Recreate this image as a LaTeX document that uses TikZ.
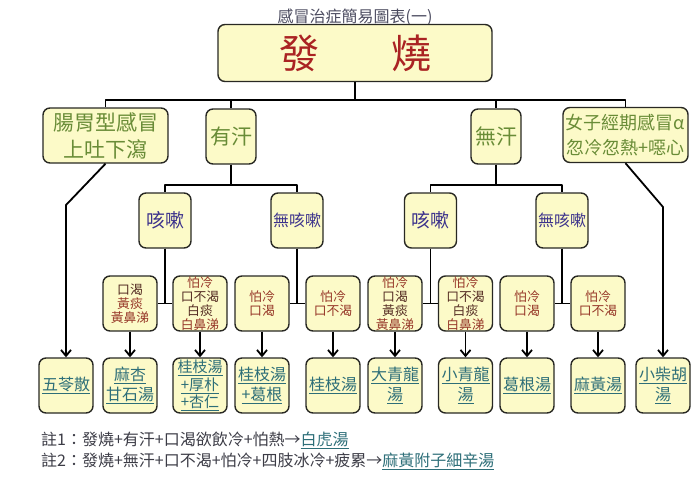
\documentclass[tikz,border=0pt]{standalone}
\usepackage{fontspec}
\setmainfont{Noto Sans CJK TC}
\usetikzlibrary{arrows.meta}
\definecolor{boxfill}{RGB}{252,250,200}
\definecolor{boxline}{RGB}{40,40,35}
\definecolor{titlegray}{RGB}{75,75,95}
\definecolor{feverred}{RGB}{170,35,35}
\definecolor{typegreen}{RGB}{105,140,55}
\definecolor{coughblue}{RGB}{60,50,140}
\definecolor{symbrown}{RGB}{150,55,40}
\definecolor{symdark}{RGB}{85,45,35}
\definecolor{herbteal}{RGB}{45,110,120}
\definecolor{notegray}{RGB}{60,60,70}

\begin{document}
\begin{tikzpicture}[x=1pt,y=-1pt,
  box/.style={draw=boxline,line width=1.4pt,rounded corners=7pt,fill=boxfill,inner sep=0pt,align=center},
  typebox/.style={box,text=typegreen,minimum height=55pt,font=\fontsize{21}{27}\selectfont},
  coughbox/.style={box,text=coughblue,minimum width=52pt,minimum height=55pt},
  symbox/.style={box,text=symbrown,minimum width=54pt,minimum height=55pt,font=\fontsize{12.8}{13.8}\selectfont},
  herbbox/.style={box,text=herbteal,minimum width=54pt,minimum height=55pt,font=\fontsize{16}{20}\selectfont},
  notetext/.style={anchor=west,inner sep=0pt,text=notegray,font=\fontsize{16}{16}\selectfont},
  link/.style={line width=1.8pt,line join=round},
  arr/.style={link,-{Straight Barb[length=6pt,width=10pt]}}]
\useasboundingbox (0,0) rectangle (700,477);

\node[text=titlegray,font=\fontsize{16}{16}\selectfont] (title) at (355,17) {感冒治症簡易圖表(一)};
\node[box,minimum width=274pt,minimum height=57pt,text=feverred,font=\fontsize{40}{40}\selectfont] (fever) at (355,53) {發\hspace{72pt}燒};

\node[typebox,minimum width=125pt] (gastro) at (105.5,135.5) {腸胃型感冒\\上吐下瀉};
\node[typebox,minimum width=50pt] (sweat) at (231,136.5) {有汗};
\node[typebox,minimum width=50pt] (nosweat) at (496,136.5) {無汗};
\node[typebox,minimum width=125pt,font=\fontsize{18}{25}\selectfont] (female) at (625.5,135) {女子經期感冒α\\忽冷忽熱+噁心};

\node[coughbox,font=\fontsize{19}{19}\selectfont] (coughA) at (165,220.5) {咳嗽};
\node[coughbox,font=\fontsize{16}{16}\selectfont] (nocoughA) at (297,220.5) {無咳嗽};
\node[coughbox,font=\fontsize{19}{19}\selectfont] (coughB) at (430.5,220.5) {咳嗽};
\node[coughbox,font=\fontsize{16}{16}\selectfont] (nocoughB) at (562,220.5) {無咳嗽};

\node[symbox] (symA) at (130,303.5) {\textcolor{symdark}{口渴}\\黃痰\\黃鼻涕};
\node[symbox] (symB) at (200,303.5) {怕冷\\\textcolor{symdark}{口不渴}\\\textcolor{symdark}{白痰}\\白鼻涕};
\node[symbox] (symC) at (262,303.5) {怕冷\\口渴};
\node[symbox] (symD) at (333,303.5) {怕冷\\口不渴};
\node[symbox] (symE) at (395,303.5) {怕冷\\\textcolor{symdark}{口渴}\\\textcolor{symdark}{黃痰}\\黃鼻涕};
\node[symbox] (symF) at (465.5,303.5) {怕冷\\\textcolor{symdark}{口不渴}\\\textcolor{symdark}{白痰}\\白鼻涕};
\node[symbox] (symG) at (527,303.5) {怕冷\\口渴};
\node[symbox] (symH) at (598,303.5) {怕冷\\口不渴};

\node[herbbox] (herb0) at (66,385.5) {\underline{五苓散}};
\node[herbbox] (herbA) at (130,385.5) {\underline{麻杏}\\\underline{甘石湯}};
\node[herbbox,font=\fontsize{15}{17.5}\selectfont] (herbB) at (200,385.5) {\underline{桂枝湯}\\\underline{+厚朴}\\\underline{+杏仁}};
\node[herbbox] (herbC) at (262,385.5) {\underline{桂枝湯}\\\underline{+葛根}};
\node[herbbox] (herbD) at (333,385.5) {\underline{桂枝湯}};
\node[herbbox] (herbE) at (395,385.5) {\underline{大青龍}\\\underline{湯}};
\node[herbbox] (herbF) at (465.5,385.5) {\underline{小青龍}\\\underline{湯}};
\node[herbbox] (herbG) at (527,385.5) {\underline{葛根湯}};
\node[herbbox] (herbH) at (598,385.5) {\underline{麻黃湯}};
\node[herbbox] (herb9) at (663,385.5) {\underline{小柴胡}\\\underline{湯}};

\coordinate (bar) at (355,100);
\draw[link] (fever.south) -- (bar);
\draw[link] (bar) -| (gastro.north);
\draw[link] (bar) -| (sweat.north);
\draw[link] (bar) -| (nosweat.north);
\draw[link] (bar) -| (female.north);

\draw[link] (sweat.south) -- ++(0,20) -| (coughA.north);
\draw[link] (sweat.south) -- ++(0,20) -| (nocoughA.north);
\draw[link] (nosweat.south) -- ++(0,20) -| (coughB.north);
\draw[link] (nosweat.south) -- ++(0,20) -| (nocoughB.north);

\draw[link] (coughA.south) |- (symA.east);
\draw[link] (coughA.south) |- (symB.west);
\draw[link] (nocoughA.south) |- (symC.east);
\draw[link] (nocoughA.south) |- (symD.west);
\draw[link] (coughB.south) |- (symE.east);
\draw[link] (coughB.south) |- (symF.west);
\draw[link] (nocoughB.south) |- (symG.east);
\draw[link] (nocoughB.south) |- (symH.west);

\foreach \s/\h in {symA/herbA,symB/herbB,symC/herbC,symD/herbD,symE/herbE,symF/herbF,symG/herbG,symH/herbH}
  \draw[arr] (\s.south) -- (\h.north);

\coordinate (gbend) at (66,205);
\draw[arr] (gastro.south) -- (gbend) -- (herb0.north);
\coordinate (fbend) at (663,207);
\draw[arr] (female.south) -- (fbend) -- (herb9.north);

\node[notetext] (note1) at (41,440) {註1：發燒+有汗+口渴欲飲冷+怕熱→\textcolor{herbteal}{\underline{白虎湯}}};
\node[notetext] (note2) at (41,461) {註2：發燒+無汗+口不渴+怕冷+四肢冰冷+疲累→\textcolor{herbteal}{\underline{麻黃附子細辛湯}}};
\end{tikzpicture}
\end{document}
